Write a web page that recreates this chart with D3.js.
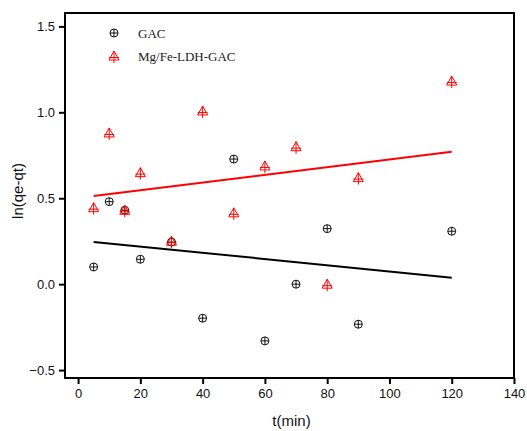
<!DOCTYPE html>
<html>
<head>
<meta charset="utf-8">
<script src="https://cdn.jsdelivr.net/npm/d3@7"></script>
<style>
  html, body { margin: 0; padding: 0; background: #fff; }
  svg { display: block; }
  .tick text { font-family: "Liberation Sans", Arial, sans-serif; font-size: 13px; fill: #111; }
</style>
</head>
<body>
<div id="grafico"></div>
<script>
// ln(qe-qt) vs t, dos series con su recta de ajuste

var tiempos = [5, 10, 15, 20, 30, 40, 50, 60, 70, 80, 90, 120];
var lnGAC = [0.10, 0.48, 0.43, 0.145, 0.245, -0.198, 0.728, -0.33, 0.0, 0.323, -0.233, 0.308];
var lnLDH = [0.445, 0.88, 0.43, 0.649, 0.25, 1.008, 0.415, 0.688, 0.80, 0.0, 0.62, 1.182];

// extremos de las rectas de ajuste
var ajusteX = [5, 120];
var ajusteGAC = [0.246, 0.038];
var ajusteLDH = [0.513, 0.771];

var ticksX = [0, 20, 40, 60, 80, 100, 120, 140];
var ticksY = [-0.5, 0.0, 0.5, 1.0, 1.5];
var nombres = ["GAC", "Mg/Fe-LDH-GAC"];

var W = 527, H = 431;
var m = { izq: 65, der: 13, arr: 13, aba: 53 };

var svg = d3.select("#grafico").append("svg")
  .attr("width", W).attr("height", H);

var x = d3.scaleLinear().domain([-4.2, 140]).range([m.izq, W - m.der]);
var y = d3.scaleLinear().domain([-0.546, 1.578]).range([H - m.aba, m.arr]);

// ejes
var ejeX = svg.append("g")
  .attr("transform", "translate(0," + (H - m.aba) + ")")
  .call(d3.axisBottom(x).tickValues(ticksX).tickFormat(d3.format("d")).tickSize(6).tickPadding(5));
var ejeY = svg.append("g")
  .attr("transform", "translate(" + m.izq + ",0)")
  .call(d3.axisLeft(y).tickValues(ticksY).tickFormat(d3.format(".1f")).tickSize(6).tickPadding(4));
[ejeX, ejeY].forEach(function (g) {
  g.select(".domain").remove();
  g.selectAll(".tick line").attr("stroke", "#000").attr("stroke-width", 2);
});

// marco
svg.append("rect")
  .attr("x", m.izq).attr("y", m.arr)
  .attr("width", W - m.der - m.izq).attr("height", H - m.aba - m.arr)
  .attr("fill", "none").attr("stroke", "#000").attr("stroke-width", 2);

// rectas de ajuste
var linea = d3.line().x(function (d) { return x(d[0]); }).y(function (d) { return y(d[1]); });
svg.append("path").datum(d3.zip(ajusteX, ajusteGAC))
  .attr("d", linea).attr("fill", "none").attr("stroke", "#000").attr("stroke-width", 2);
svg.append("path").datum(d3.zip(ajusteX, ajusteLDH))
  .attr("d", linea).attr("fill", "none").attr("stroke", "#ff0000").attr("stroke-width", 2);

// marcadores
function circuloCruz(g, cx, cy) {
  var r = 4;
  g.append("circle").attr("cx", cx).attr("cy", cy).attr("r", r)
    .attr("fill", "none").attr("stroke", "#111").attr("stroke-width", 1);
  g.append("path")
    .attr("d", "M" + (cx - r) + "," + cy + "H" + (cx + r) + "M" + cx + "," + (cy - r) + "V" + (cy + r))
    .attr("stroke", "#111").attr("stroke-width", 1);
}
function trianguloCruz(g, cx, cy) {
  var s = 5;
  g.append("path")
    .attr("d", "M" + cx + "," + (cy - s) + "L" + (cx + s) + "," + (cy + s * 0.8) + "L" + (cx - s) + "," + (cy + s * 0.8) + "Z")
    .attr("fill", "none").attr("stroke", "#ff0000").attr("stroke-width", 1);
  g.append("path")
    .attr("d", "M" + (cx - s) + "," + (cy + 1.5) + "H" + (cx + s) + "M" + cx + "," + (cy - s) + "V" + (cy + s + 2))
    .attr("stroke", "#ff0000").attr("stroke-width", 1);
}

var gGAC = svg.append("g");
tiempos.forEach(function (t, i) { circuloCruz(gGAC, x(t), y(lnGAC[i])); });
var gLDH = svg.append("g");
tiempos.forEach(function (t, i) { trianguloCruz(gLDH, x(t), y(lnLDH[i])); });

// leyenda
var ley = svg.append("g");
circuloCruz(ley, 114, 33);
trianguloCruz(ley, 114, 56);
ley.selectAll("text").data(nombres).enter().append("text")
  .attr("x", 138).attr("y", function (d, i) { return 38 + i * 23; })
  .attr("font-family", "'Liberation Serif', 'Times New Roman', serif")
  .attr("font-size", 13).attr("fill", "#222")
  .text(function (d) { return d; });

// titulos
svg.append("text")
  .attr("x", (m.izq + W - m.der) / 2 + 2).attr("y", 426)
  .attr("text-anchor", "middle")
  .attr("font-family", "'Liberation Sans', Arial, sans-serif").attr("font-size", 15).attr("fill", "#111")
  .text("t(min)");
svg.append("text")
  .attr("transform", "translate(23," + 191 + ") rotate(-90)")
  .attr("text-anchor", "middle")
  .attr("font-family", "'Liberation Sans', Arial, sans-serif").attr("font-size", 15).attr("fill", "#111")
  .text("ln(qe-qt)");
</script>
</body>
</html>
